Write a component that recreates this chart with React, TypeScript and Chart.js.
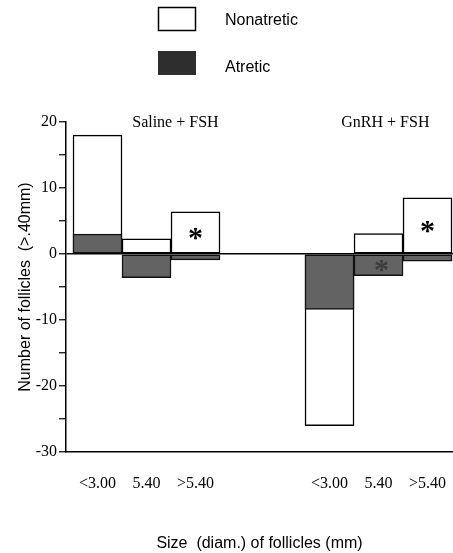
import React, { useEffect, useRef } from 'react';
import { Chart, registerables } from 'chart.js';

Chart.register(...registerables);

// ---- data ----
const groups = ['Saline + FSH', 'GnRH + FSH'];
const sizeClasses = ['<3.00', '5.40', '>5.40'];
const nonatretic = [18, 2.3, 6.4, -26, 3.1, 8.5];
const atretic = [3, -3.6, -0.9, -8.4, -3.3, -1.1];
const starOnNonatretic = [false, false, true, false, false, true];
const starOnAtretic = [false, false, false, false, true, false];
const yMajorTicks = [-30, -20, -10, 0, 10, 20];
const seriesNames = ['Nonatretic', 'Atretic'];
const xTitle = 'Size  (diam.) of follicles (mm)';
const yTitle = 'Number of follicles  (>.40mm)';

// ---- layout (in bar-slot units) ----
const GROUP_STEP = 4.735;
const X_MIN = -0.643;
const X_MAX = 7.255;
const GROUP_LABEL_AT = [1.59, 1.14];

const positions = groups.flatMap((_, g) => sizeClasses.map((__, s) => g * GROUP_STEP + s));
const tickLabels = groups.flatMap(() => sizeClasses);

const SERIF = '"Liberation Serif", "Times New Roman", serif';
const SANS = '"Liberation Sans", Arial, sans-serif';
const ATRETIC_FILL = '#636363';
const ATRETIC_LEGEND = '#2e2e2e';

const annotations = {
  id: 'annotations',
  afterDatasetsDraw(chart: any) {
    const { ctx, scales } = chart;
    const x = scales.x;
    const y = scales.y;
    ctx.save();

    // legend
    ctx.lineWidth = 1.5;
    ctx.strokeStyle = '#000';
    ctx.fillStyle = '#fff';
    ctx.fillRect(158, 7, 38, 24);
    ctx.strokeRect(158.5, 7.5, 37, 23);
    ctx.fillStyle = ATRETIC_LEGEND;
    ctx.fillRect(158, 51, 38, 24);
    ctx.fillStyle = '#000';
    ctx.font = `16px ${SANS}`;
    ctx.textAlign = 'left';
    ctx.textBaseline = 'alphabetic';
    ctx.fillText(seriesNames[0], 225, 25);
    ctx.fillText(seriesNames[1], 225, 72);

    // group labels
    ctx.font = `16px ${SERIF}`;
    ctx.textAlign = 'center';
    groups.forEach((g, i) => {
      ctx.fillText(g, x.getPixelForValue(i * GROUP_STEP + GROUP_LABEL_AT[i]), y.getPixelForValue(20) + 5);
    });

    // asterisks
    const size = 30;
    ctx.font = `bold ${size}px ${SERIF}`;
    positions.forEach((p, i) => {
      const px = x.getPixelForValue(p);
      if (starOnNonatretic[i]) {
        ctx.fillStyle = '#000';
        ctx.fillText('*', px, y.getPixelForValue(nonatretic[i] / 2) + size * 0.48);
      }
      if (starOnAtretic[i]) {
        ctx.fillStyle = '#3c3c3c';
        ctx.fillText('*', px + 3, y.getPixelForValue(atretic[i] / 2) + size * 0.48);
      }
    });
    ctx.restore();
  },
};

export default function App() {
  const canvasRef = useRef<HTMLCanvasElement | null>(null);

  useEffect(() => {
    document.body.style.margin = '0';
    const canvas = canvasRef.current;
    if (!canvas) return;
    const chart = new Chart(canvas, {
      type: 'bar',
      data: {
        datasets: [
          {
            label: seriesNames[0],
            data: positions.map((p, i) => ({ x: p, y: nonatretic[i] })),
            backgroundColor: '#ffffff',
            borderColor: '#000000',
            borderWidth: 1.5,
            borderSkipped: false,
            categoryPercentage: 1,
            barPercentage: 1,
            order: 2,
          },
          {
            label: seriesNames[1],
            data: positions.map((p, i) => ({ x: p, y: atretic[i] })),
            backgroundColor: ATRETIC_FILL,
            borderColor: '#111111',
            borderWidth: 1.5,
            borderSkipped: false,
            categoryPercentage: 1,
            barPercentage: 1,
            order: 1,
          },
        ],
      },
      options: {
        responsive: false,
        maintainAspectRatio: false,
        animation: false,
        layout: { padding: { top: 122, right: 0, left: 0, bottom: 0 } },
        plugins: {
          legend: { display: false },
          tooltip: { enabled: false },
        },
        scales: {
          x: {
            type: 'linear',
            min: X_MIN,
            max: X_MAX,
            bounds: 'data',
            offset: false,
            stacked: true,
            afterBuildTicks: (s: any) => {
              s.ticks = positions.map((v) => ({ value: v }));
            },
            afterFit: (s: any) => {
              s.height = 101;
              s.paddingLeft = 0;
              s.paddingRight = 0;
            },
            ticks: {
              callback: (_v: any, i: number) => tickLabels[i],
              autoSkip: false,
              maxRotation: 0,
              padding: 14,
              color: '#000',
              font: { family: SERIF, size: 16 },
            },
            grid: { display: false, offset: false },
            border: { display: true, color: '#000', width: 1.5 },
            title: {
              display: true,
              text: xTitle,
              color: '#000',
              font: { family: SANS, size: 16 },
              padding: { top: 0, bottom: 0 },
            },
          },
          y: {
            min: -30,
            max: 20,
            stacked: false,
            afterFit: (s: any) => {
              s.width = 66;
            },
            ticks: {
              stepSize: 5,
              callback: (v: any) => (yMajorTicks.includes(Number(v)) ? String(v) : ''),
              color: '#000',
              padding: 2,
              font: { family: SERIF, size: 16 },
            },
            grid: {
              color: (c: any) => (c.tick && c.tick.value === 0 ? '#000' : 'rgba(0,0,0,0)'),
              lineWidth: 1.5,
              tickColor: '#000',
              tickLength: 7,
              tickWidth: 1.2,
            },
            border: { color: '#000', width: 1.5 },
            title: {
              display: true,
              text: yTitle,
              color: '#000',
              font: { family: SANS, size: 16 },
              padding: { top: 16, bottom: 0 },
            },
          },
        },
      },
      plugins: [annotations],
    } as any);
    return () => chart.destroy();
  }, []);

  return (
    <div style={{ width: 453, height: 553 }}>
      <canvas ref={canvasRef} width={453} height={553} style={{ display: 'block' }} />
    </div>
  );
}
